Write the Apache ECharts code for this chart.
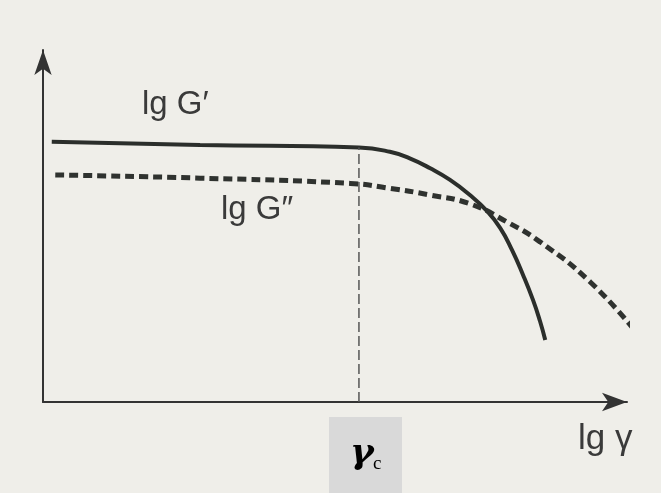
<!DOCTYPE html>
<html>
<head>
<meta charset="utf-8">
<script src="https://cdn.jsdelivr.net/npm/echarts@6/dist/echarts.min.js"></script>
<style>
  html, body { margin: 0; padding: 0; background: #efeee9; }
  #chart { width: 661px; height: 493px; }
</style>
</head>
<body>
<div id="chart"></div>
<script>
// Schematic amplitude sweep: lg G' and lg G'' versus lg gamma (arbitrary units)
const gPrimeX  = [1.5, 26.9, 54.1, 59.4, 62.8, 66.3, 69.7, 73.1, 76.0, 78.3, 80.3, 82.2, 83.9, 85.1, 86.0];
const gPrimeY  = [73.9, 73.0, 72.3, 71.1, 69.2, 66.4, 63.1, 58.8, 54.3, 49.4, 43.2, 36.1, 29.0, 23.0, 17.6];
const gDoubleX = [2.1, 26.9, 52.6, 59.4, 66.3, 73.1, 79.5, 85.1, 93.7, 101.7];
const gDoubleY = [64.5, 63.6, 62.1, 60.7, 58.8, 56.3, 51.1, 45.5, 34.1, 19.6];
const gammaC = 54.1;
const gammaCLevel = 72.3;
const labels = { gPrime: 'lg G\u2032', gDouble: 'lg G\u2033', xName: 'lg \u03b3', gammaSym: '\u03b3', gammaSub: 'c' };

const zip = (xs, ys) => xs.map((x, i) => [x, ys[i]]);

const chart = echarts.init(document.getElementById('chart'), null, { renderer: 'canvas' });
const axisCommon = {
  type: 'value', min: 0, max: 100,
  axisLabel: { show: false }, axisTick: { show: false }, splitLine: { show: false }
};
chart.setOption({
  backgroundColor: '#efeee9',
  animation: false,
  grid: { left: 43, right: 34, top: 50, bottom: 91 },
  xAxis: Object.assign({}, axisCommon, {
    axisLine: { show: true, onZero: false, symbol: ['none', 'arrow'], symbolSize: [14, 25], lineStyle: { color: '#333', width: 2 } }
  }),
  yAxis: Object.assign({}, axisCommon, {
    axisLine: { show: true, onZero: false, symbol: ['none', 'arrow'], symbolSize: [13, 25], lineStyle: { color: '#333', width: 2 } }
  }),
  series: [
    {
      name: labels.gPrime, type: 'line', data: zip(gPrimeX, gPrimeY), smooth: 0.5,
      showSymbol: false, clip: false,
      lineStyle: { color: '#2b2e2b', width: 4 }
    },
    {
      name: labels.gDouble, type: 'line', data: zip(gDoubleX, gDoubleY), smooth: 0.5,
      showSymbol: false, clip: false,
      lineStyle: { color: '#2f322f', width: 5, type: [9, 5], cap: 'butt' }
    },
    {
      name: 'gammaC', type: 'line', data: [[gammaC, 0], [gammaC, gammaCLevel]],
      showSymbol: false, clip: false,
      lineStyle: { color: '#555', width: 1.5, type: [10, 4] }
    }
  ],
  graphic: [
    { type: 'text', left: 142, top: 88, style: { text: labels.gPrime, font: '33px "Liberation Sans"', fill: '#3a3a3a' } },
    { type: 'text', left: 221, top: 193, style: { text: labels.gDouble, font: '33px "Liberation Sans"', fill: '#3a3a3a' } },
    { type: 'text', left: 578, top: 422, style: { text: labels.xName, font: '35px "Liberation Sans"', fill: '#3a3a3a' } },
    { type: 'rect', left: 329, top: 417, shape: { width: 73, height: 76 }, style: { fill: '#d9d9d9' } },
    { type: 'text', left: 350, top: 436, style: { text: labels.gammaSym, font: 'bold italic 36px "DejaVu Serif"', fill: '#000' } },
    { type: 'text', left: 373, top: 455, style: { text: labels.gammaSub, font: '19px "Liberation Serif"', fill: '#000' } }
  ]
});
</script>
</body>
</html>
